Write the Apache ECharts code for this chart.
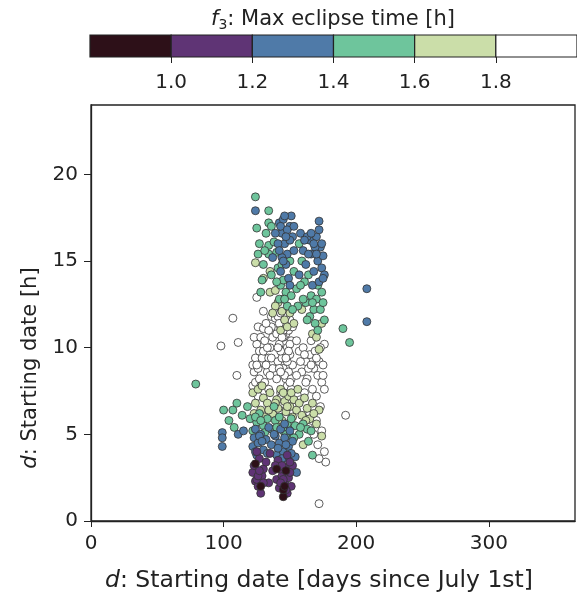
<!DOCTYPE html>
<html><head><meta charset="utf-8">
<script src="https://cdn.jsdelivr.net/npm/echarts@6/dist/echarts.min.js"></script>
<style>html,body{margin:0;padding:0;background:#fff}#c{width:577px;height:598px}</style>
</head><body><div id="c"></div>
<script>
// colorbar bands (f3 boundaries) and colours
const cbEdges = [0.8, 1.0, 1.2, 1.4, 1.6, 1.8, 2.0];
const cbColors = ['#2d1018', '#5f3475', '#4f7aa8', '#6ec59c', '#cbdea9', '#ffffff'];
const xTicks = [0, 100, 200, 300];
const yTicks = [0, 5, 10, 15, 20];

// points: [day, hour, f3]
const darkPts = [[128,2.0,0.9],[145,1.4,0.9],[145,1.8,0.9],[147,2.9,0.9],[140,3.0,0.9],[124,3.3,0.9],[146,2.0,0.9]];
const purplePts = [[122,2.8,1.1],[123,3.2,1.1],[124,2.3,1.1],[126,2.0,1.1],[127,3.6,1.1],[129,2.6,1.1],[130,3.0,1.1],[132,3.4,1.1],[134,2.2,1.1],[137,2.9,1.1],[140,2.4,1.1],[141,3.5,1.1],[142,1.9,1.1],[144,2.6,1.1],[146,3.1,1.1],[146,2.2,1.1],[148,1.6,1.1],[148,3.8,1.1],[149,2.5,1.1],[151,2.0,1.1],[152,3.2,1.1],[135,3.9,1.1],[125,4.0,1.1],[128,1.6,1.1],
 [125,2.4,1.1],[130,2.2,1.1],[143,3.0,1.1],[145,2.4,1.1],[147,1.8,1.1],[150,2.8,1.1],[139,3.2,1.1],[126,2.6,1.1],[143,2.2,1.1],[150,3.4,1.1],[127,2.9,1.1],[144,3.2,1.1]];
const bluePts = [[99,5.1,1.3],[99,4.8,1.3],[99,4.3,1.3],[111,5.0,1.3],[115,5.2,1.3],[122,4.3,1.3],[123,4.8,1.3],[124,5.3,1.3],[125,3.8,1.3],[126,4.5,1.3],[128,5.0,1.3],[130,4.1,1.3],[132,4.7,1.3],[134,5.4,1.3],[136,4.4,1.3],[139,4.9,1.3],[140,3.8,1.3],[142,4.5,1.3],[143,5.3,1.3],[145,4.0,1.3],[146,4.8,1.3],[148,3.6,1.3],[149,4.3,1.3],[150,5.2,1.3],[152,4.6,1.3],[154,3.7,1.3],[155,2.8,1.3],[146,5.6,1.3],
 [124,4.0,1.3],[127,4.9,1.3],[133,3.9,1.3],[138,5.0,1.3],[141,4.2,1.3],[144,3.6,1.3],[147,4.4,1.3],[151,3.9,1.3],[129,4.6,1.3],
 [124,17.9,1.3],[142,17.2,1.3],[144,16.6,1.3],[146,16.0,1.3],[148,15.4,1.3],[150,17.0,1.3],[151,17.6,1.3],[152,16.4,1.3],[144,15.2,1.3],[147,14.8,1.3],[141,16.0,1.3],[143,14.4,1.3],[149,14.0,1.3],[153,15.6,1.3],[150,13.6,1.3],[145,17.4,1.3],[158,16.6,1.3],[160,15.6,1.3],[162,14.8,1.3],[165,16.2,1.3],[166,15.4,1.3],[168,14.4,1.3],[170,16.4,1.3],[171,15.0,1.3],[172,17.3,1.3],[173,15.8,1.3],[174,14.6,1.3],[175,15.3,1.3],[176,14.2,1.3],[167,13.6,1.3],[163,16.4,1.3],[169,15.8,1.3],[208,13.4,1.3],[208,11.5,1.3],[172,13.8,1.3],[157,14.2,1.3],[139,16.6,1.3],[137,15.2,1.3],
 [143,17.0,1.3],[146,17.6,1.3],[148,16.8,1.3],[150,16.2,1.3],[142,15.6,1.3],[145,15.0,1.3],[147,16.4,1.3],[153,17.0,1.3],[166,16.6,1.3],[168,16.0,1.3],[170,15.4,1.3],[172,16.8,1.3],[174,16.0,1.3],[164,15.4,1.3],[161,16.2,1.3],[175,14.0,1.3]];
const greenPts = [[124,18.7,1.5],[134,17.9,1.5],[125,16.9,1.5],[134,17.2,1.5],[127,16.0,1.5],[134,15.9,1.5],[138,16.1,1.5],[126,15.4,1.5],[134,15.4,1.5],[130,14.8,1.5],[136,14.2,1.5],[129,13.9,1.5],[141,14.6,1.5],[143,13.6,1.5],[145,13.9,1.5],[147,13.2,1.5],[140,15.5,1.5],[142,12.8,1.5],[148,12.4,1.5],[151,13.0,1.5],[153,14.4,1.5],[155,13.4,1.5],[156,12.4,1.5],[159,15.0,1.5],[161,13.8,1.5],[162,12.6,1.5],[164,14.2,1.5],[165,11.8,1.5],[166,13.0,1.5],[168,12.2,1.5],[169,11.4,1.5],[170,12.8,1.5],[171,11.0,1.5],[173,12.2,1.5],[174,13.2,1.5],[176,11.6,1.5],[190,11.1,1.5],[195,10.3,1.5],[157,16.0,1.5],[150,15.0,1.5],
 [140,13.8,1.5],[144,14.8,1.5],[146,12.8,1.5],[152,12.2,1.5],[158,13.6,1.5],[160,12.8,1.5],[163,11.6,1.5],[167,12.6,1.5],[171,13.6,1.5],[175,12.6,1.5],[128,13.2,1.5],[131,15.6,1.5],[132,16.6,1.5],[136,17.0,1.5],
 [79,7.9,1.5],[100,6.4,1.5],[104,5.8,1.5],[107,6.4,1.5],[110,6.8,1.5],[108,5.4,1.5],[114,6.1,1.5],[118,6.6,1.5],[120,5.9,1.5],[122,5.2,1.5],[125,5.7,1.5],[127,6.2,1.5],[130,5.5,1.5],[133,5.9,1.5],[136,5.3,1.5],[139,5.8,1.5],[142,6.0,1.5],[145,5.2,1.5],[148,5.6,1.5],[151,5.9,1.5],[154,5.5,1.5],[157,5.0,1.5],[160,5.6,1.5],[163,5.3,1.5],[167,3.8,1.5],[164,4.6,1.5],[138,6.6,1.5],[150,4.9,1.5],
 [124,6.0,1.5],[131,5.1,1.5],[140,5.4,1.5],[147,5.0,1.5],[153,4.8,1.5],[158,5.4,1.5],[166,5.2,1.5],[128,5.8,1.5]];
const lightPts = [[124,14.9,1.7],[135,14.4,1.7],[130,14.0,1.7],[135,13.2,1.7],[139,13.3,1.7],[141,12.6,1.7],[144,12.1,1.7],[146,11.6,1.7],[139,12.4,1.7],[143,11.0,1.7],[148,11.2,1.7],[150,12.0,1.7],[159,12.2,1.7],[167,10.8,1.7],[172,9.9,1.7],[170,10.6,1.7],[174,11.4,1.7],[153,11.4,1.7],[137,12.0,1.7],
 [122,7.4,1.7],[124,6.8,1.7],[126,7.6,1.7],[128,6.4,1.7],[130,7.1,1.7],[131,6.0,1.7],[133,6.8,1.7],[135,7.4,1.7],[137,6.2,1.7],[140,7.0,1.7],[141,6.5,1.7],[143,7.6,1.7],[144,5.8,1.7],[146,6.9,1.7],[147,6.3,1.7],[149,7.2,1.7],[150,6.6,1.7],[152,6.0,1.7],[153,7.0,1.7],[155,6.4,1.7],[157,6.8,1.7],[159,6.1,1.7],[161,7.1,1.7],[163,6.5,1.7],[165,5.9,1.7],[167,6.8,1.7],[170,5.6,1.7],[172,6.4,1.7],[174,4.9,1.7],[160,4.4,1.7],
 [123,6.2,1.7],[129,7.8,1.7],[134,6.4,1.7],[139,6.8,1.7],[145,7.4,1.7],[148,6.6,1.7],[151,7.4,1.7],[156,7.6,1.7],[162,5.8,1.7],[168,6.2,1.7]];
const whitePts = [[98,10.1,1.9],[107,11.7,1.9],[110,8.4,1.9],[111,10.3,1.9],[125,12.9,1.9],[192,6.1,1.9],[172,1.0,1.9],[177,3.4,1.9],[130,12.1,1.9],[136,11.8,1.9],[139,11.7,1.9],[126,11.2,1.9],[130,11.1,1.9],
 [122,7.8,1.9],[123,8.6,1.9],[124,9.4,1.9],[125,10.2,1.9],[122,9.0,1.9],[124,8.0,1.9],[126,8.8,1.9],[127,9.8,1.9],[123,10.6,1.9],[126,7.2,1.9],
 [125,9.0,1.9],[127,8.2,1.9],[128,10.6,1.9],[129,9.4,1.9],[128,7.8,1.9],[133,8.6,1.9],[135,10.0,1.9],[136,11.2,1.9],[130,9.8,1.9],[137,8.8,1.9],[134,9.4,1.9],
 [131,8.0,1.9],[132,9.0,1.9],[133,10.0,1.9],[134,11.0,1.9],[131,10.4,1.9],[135,8.4,1.9],[136,9.4,1.9],[137,10.6,1.9],[134,7.6,1.9],[132,11.4,1.9],
 [140,8.2,1.9],[141,9.2,1.9],[142,10.2,1.9],[143,11.2,1.9],[144,12.4,1.9],[145,8.8,1.9],[146,9.8,1.9],[147,10.8,1.9],[148,7.8,1.9],[149,8.6,1.9],[150,9.6,1.9],[151,10.4,1.9],[140,10.8,1.9],[141,11.8,1.9],[143,7.4,1.9],[145,12.8,1.9],[147,8.2,1.9],[149,11.0,1.9],[151,7.6,1.9],[152,9.0,1.9],[144,9.4,1.9],[146,7.0,1.9],[148,10.0,1.9],[150,11.6,1.9],[142,8.8,1.9],[146,11.4,1.9],[148,12.0,1.9],[141,7.0,1.9],[143,9.8,1.9],[145,10.6,1.9],
 [142,6.4,1.9],[144,7.2,1.9],[146,8.4,1.9],[148,9.2,1.9],[150,10.2,1.9],[147,11.8,1.9],[143,12.0,1.9],[145,11.0,1.9],[149,9.8,1.9],[151,8.2,1.9],[144,10.6,1.9],[142,11.4,1.9],[147,9.4,1.9],[149,7.0,1.9],[150,8.0,1.9],[152,11.2,1.9],[141,10.0,1.9],[143,8.6,1.9],
 [157,9.8,1.9],[159,8.6,1.9],[160,10.0,1.9],[162,9.2,1.9],[163,8.2,1.9],[165,9.6,1.9],[166,10.4,1.9],[168,8.8,1.9],[169,9.8,1.9],[171,8.4,1.9],[172,9.2,1.9],[174,8.0,1.9],[175,9.0,1.9],[176,10.2,1.9],[170,7.2,1.9],[167,7.6,1.9],[161,7.4,1.9],[173,6.6,1.9],[164,5.4,1.9],[168,5.0,1.9],[171,4.4,1.9],[158,7.0,1.9],[176,7.6,1.9],[155,8.4,1.9],[155,10.4,1.9],
 [158,9.2,1.9],[161,9.6,1.9],[164,8.8,1.9],[166,9.0,1.9],[170,9.4,1.9],[173,10.0,1.9],[175,8.4,1.9],[162,8.0,1.9],[170,5.8,1.9],[174,5.2,1.9],[176,4.0,1.9],[172,3.6,1.9],[165,6.2,1.9]];

const allPts = [].concat(whitePts, lightPts, greenPts, bluePts, purplePts, darkPts);
const cbData = cbColors.map((c, i) => [cbEdges[i], cbEdges[i + 1], i]);

const FONT = 'DejaVu Sans';
const chart = echarts.init(document.getElementById('c'), null, {renderer: 'canvas'});
chart.setOption({
  backgroundColor: '#fff',
  animation: false,
  textStyle: {fontFamily: FONT},
  title: {
    text: '{i|f}{s|3}: Max eclipse time [h]',
    left: 328, top: 3, textAlign: 'center',
    textStyle: {fontFamily: FONT, fontSize: 21, fontWeight: 'normal', color: '#222',
      rich: {i: {fontFamily: FONT, fontSize: 21, fontStyle: 'italic', color: '#222'},
             s: {fontFamily: FONT, fontSize: 14, color: '#222', verticalAlign: 'bottom', padding: [10, 0, 0, 0]}}}
  },
  grid: [
    {left: 91, right: 2, top: 105, bottom: 77, show: true, borderColor: '#222', borderWidth: 1.3, backgroundColor: '#fff'},
    {left: 90, right: 0, top: 35, height: 22, show: false}
  ],
  visualMap: {
    type: 'piecewise', show: false, seriesIndex: 0, dimension: 2,
    pieces: cbColors.map((c, i) => ({gte: cbEdges[i], lt: cbEdges[i + 1], color: c}))
  },
  xAxis: [
    {gridIndex: 0, type: 'value', min: 0, max: 365, interval: 100,
     axisLine: {show: true, lineStyle: {color: '#222', width: 1.3}},
     axisTick: {show: true, length: 6, lineStyle: {color: '#222'}},
     axisLabel: {showMaxLabel: false, fontSize: 20, color: '#222', margin: 13, fontFamily: FONT},
     splitLine: {show: false},
     name: '{i|d}: Starting date [days since July 1st]', nameLocation: 'middle', nameGap: 48,
     nameTextStyle: {fontSize: 23.5, color: '#222', fontFamily: FONT, padding: [0, 28, 0, 0],
       rich: {i: {fontSize: 23.5, fontStyle: 'italic', color: '#222', fontFamily: FONT}}}},
    {gridIndex: 1, type: 'value', min: 0.8, max: 2.0, interval: 0.2,
     axisLine: {show: false},
     axisTick: {show: true, length: 6, lineStyle: {color: '#222'}},
     axisLabel: {showMinLabel: false, showMaxLabel: false, fontSize: 20, color: '#222', margin: 16, fontFamily: FONT,
       formatter: v => v.toFixed(1)},
     splitLine: {show: false}}
  ],
  yAxis: [
    {gridIndex: 0, type: 'value', min: 0, max: 24, interval: 5,
     axisLine: {show: true, lineStyle: {color: '#222', width: 1.3}},
     axisTick: {show: true, length: 7, lineStyle: {color: '#222'}},
     axisLabel: {showMaxLabel: false, fontSize: 20, color: '#222', margin: 13, fontFamily: FONT},
     splitLine: {show: false},
     name: '{i|d}: Starting date [h]', nameLocation: 'middle', nameGap: 50, nameRotate: 90,
     nameTextStyle: {fontSize: 21, color: '#222', fontFamily: FONT, padding: [0, 110, 0, 0],
       rich: {i: {fontSize: 21, fontStyle: 'italic', color: '#222', fontFamily: FONT}}}},
    {gridIndex: 1, type: 'value', min: 0, max: 1, show: false}
  ],
  series: [
    {type: 'scatter', xAxisIndex: 0, yAxisIndex: 0, data: allPts, symbol: 'circle', symbolSize: 8,
     itemStyle: {borderColor: '#333', borderWidth: 0.8, opacity: 1}},
    {type: 'custom', xAxisIndex: 1, yAxisIndex: 1, data: cbData, silent: true,
     renderItem: function (params, api) {
       const p0 = api.coord([api.value(0), 1]);
       const p1 = api.coord([api.value(1), 0]);
       return {type: 'rect', shape: {x: p0[0], y: p0[1], width: p1[0] - p0[0], height: p1[1] - p0[1]},
         style: {fill: cbColors[api.value(2)], stroke: '#222', lineWidth: 1.2}};
     }}
  ]
});
</script></body></html>
